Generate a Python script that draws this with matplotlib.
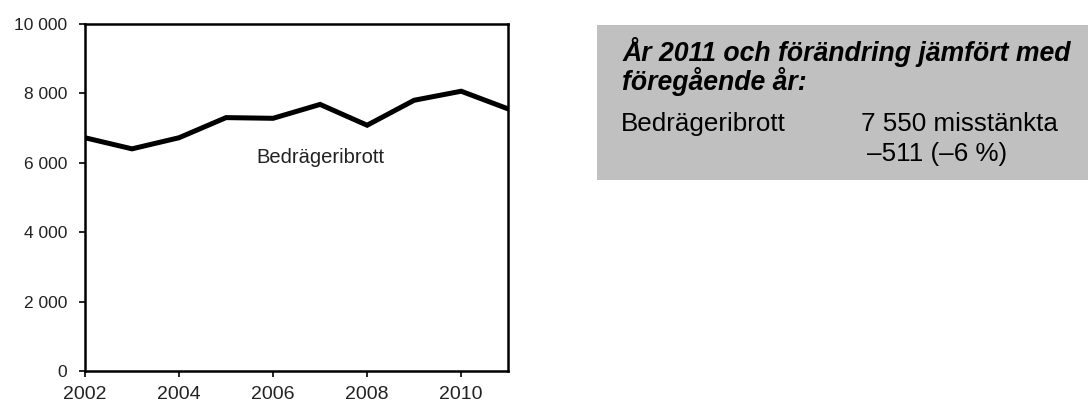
import matplotlib.pyplot as plt
from matplotlib.patches import Rectangle

plt.rcParams['font.family'] = ['Liberation Sans', 'DejaVu Sans']

years = [2002, 2003, 2004, 2005, 2006, 2007, 2008, 2009, 2010, 2011]
suspects = [6720, 6400, 6720, 7300, 7280, 7680, 7080, 7800, 8060, 7550]
yticks = [0, 2000, 4000, 6000, 8000, 10000]
xticks = [2002, 2004, 2006, 2008, 2010]

fig = plt.figure(figsize=(10.88, 4.05), dpi=100)
ax = fig.add_axes([0.0781, 0.084, 0.389, 0.857])

ax.plot(years, suspects, color='black', lw=3.6, solid_joinstyle='miter')
ax.set_xlim(2002, 2011)
ax.set_ylim(0, 10000)
ax.set_yticks(yticks)
ax.set_yticklabels([f'{v:,}'.replace(',', ' ') for v in yticks])
ax.set_xticks(xticks)
for s in ax.spines.values():
    s.set_linewidth(1.8)
ax.tick_params(direction='out', length=4, width=1.2, labelcolor='#222222')
ax.tick_params(axis='y', labelsize=12.5, pad=9)
ax.tick_params(axis='x', labelsize=14, pad=7)
ax.text(2007.0, 6150, 'Bedrägeribrott', ha='center', va='center', fontsize=14.5, color='#222222')

# info box
fig.patches.append(Rectangle((0.549, 0.555), 0.451, 0.383, transform=fig.transFigure,
                             facecolor='#c0c0c0', edgecolor='none'))
fig.text(0.572, 0.849, 'År 2011 och förändring jämfört med', fontsize=19.2,
         fontweight='bold', fontstyle='italic', va='baseline')
fig.text(0.572, 0.778, 'föregående år:', fontsize=19.2,
         fontweight='bold', fontstyle='italic', va='baseline')
fig.text(0.571, 0.677, 'Bedrägeribrott', fontsize=18.7, va='baseline')
fig.text(0.791, 0.677, '7 550 misstänkta', fontsize=18.7, va='baseline')
fig.text(0.797, 0.603, '–511 (–6 %)', fontsize=18.7, va='baseline')

fig.savefig('out.png', dpi=100)
